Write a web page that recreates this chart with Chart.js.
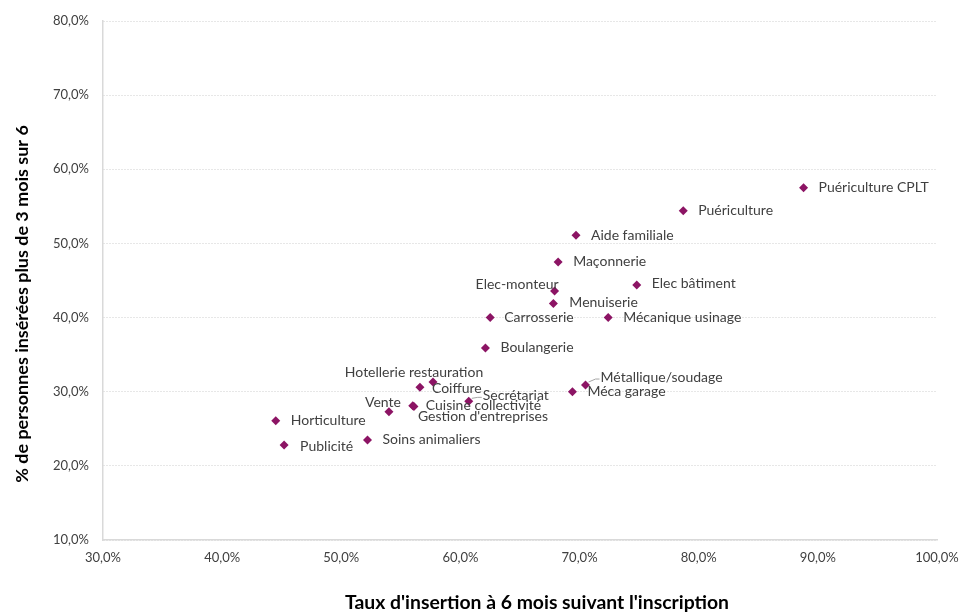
<!DOCTYPE html>
<html lang="fr">
<head>
<meta charset="utf-8">
<script src="https://cdn.jsdelivr.net/npm/chart.js@4/dist/chart.umd.min.js"></script>
<style>
  html, body { margin: 0; padding: 0; background: #ffffff; }
  #wrap { width: 959px; height: 612px; position: relative; }
</style>
</head>
<body>
<div id="wrap"><canvas id="chart" width="959" height="612"></canvas></div>
<script>
// Filières de formation
const filieres = [
  'Puériculture CPLT', 'Puériculture', 'Aide familiale', 'Maçonnerie',
  'Elec-monteur', 'Menuiserie', 'Elec bâtiment', 'Carrosserie',
  'Mécanique usinage', 'Boulangerie', 'Métallique/soudage', 'Méca garage',
  'Hotellerie restauration', 'Coiffure', 'Secrétariat', 'Cuisine collectivité',
  'Gestion d\'entreprises', 'Vente', 'Horticulture', 'Publicité', 'Soins animaliers'
];
// Taux d'insertion à 6 mois (%)
const tauxInsertion6Mois = [
  88.8, 78.7, 69.7, 68.2,
  67.9, 67.8, 74.8, 62.5,
  72.4, 62.1, 70.5, 69.4,
  57.7, 56.6, 60.7, 56.0,
  56.1, 54.0, 44.5, 45.2, 52.2
];
// Part des personnes insérées plus de 3 mois sur 6 (%)
const inseresPlus3Mois = [
  57.5, 54.4, 51.1, 47.5,
  43.6, 41.9, 44.4, 40.0,
  40.0, 35.9, 30.9, 30.0,
  31.3, 30.6, 28.7, 28.1,
  28.0, 27.3, 26.1, 22.8, 23.5
];
const xTicks = [30, 40, 50, 60, 70, 80, 90, 100];
const yTicks = [10, 20, 30, 40, 50, 60, 70, 80];

// Placement of the point labels (pixel offsets from the marker)
const defaultPlacement = { dx: 15, dy: 0, align: 'left' };
const labelPlacement = {
  'Elec-monteur': { dx: 4, dy: -6, align: 'right' },
  'Menuiserie': { dx: 16, dy: -1, align: 'left' },
  'Elec bâtiment': { dx: 15, dy: -1, align: 'left' },
  'Carrosserie': { dx: 14, dy: 0, align: 'left' },
  'Métallique/soudage': { dx: 15, dy: -8, align: 'left', leader: true },
  'Hotellerie restauration': { dx: -19, dy: -10, align: 'center' },
  'Coiffure': { dx: 12, dy: 1, align: 'left' },
  'Secrétariat': { dx: 14, dy: -6, align: 'left', leader: true },
  'Cuisine collectivité': { dx: 13, dy: 0, align: 'left' },
  'Gestion d\'entreprises': { dx: 4, dy: 10, align: 'left' },
  'Vente': { dx: -6, dy: -9, align: 'center' },
  'Publicité': { dx: 16, dy: 1, align: 'left' }
};

const fmtPct = v => v.toFixed(1).replace('.', ',') + '%';
const FONT = 'Lato, "Open Sans", sans-serif';
const markerColor = '#8c1464';
const gridColor = '#d9d9d9';

const pointLabels = {
  id: 'pointLabels',
  afterDatasetsDraw(chart) {
    const ctx = chart.ctx;
    const meta = chart.getDatasetMeta(0);
    ctx.save();
    ctx.font = '14px ' + FONT;
    ctx.fillStyle = '#404040';
    ctx.textBaseline = 'middle';
    meta.data.forEach((pt, i) => {
      const name = filieres[i];
      const p = labelPlacement[name] || defaultPlacement;
      const tx = pt.x + p.dx, ty = pt.y + p.dy;
      if (p.leader) {
        ctx.save();
        ctx.strokeStyle = '#a6a6a6';
        ctx.lineWidth = 1;
        ctx.beginPath();
        ctx.moveTo(pt.x + 3, pt.y - 3);
        ctx.lineTo(tx - 5, ty + 2);
        ctx.lineTo(tx - 1, ty + 2);
        ctx.stroke();
        ctx.restore();
      }
      ctx.textAlign = p.align;
      ctx.fillText(name, tx, ty);
    });
    ctx.restore();
  }
};

// Draws a bold title scaled to the given width
function drawTitle(ctx, text, width) {
  ctx.font = 'bold 15px ' + FONT;
  const size = 15 * width / ctx.measureText(text).width;
  ctx.font = 'bold ' + size.toFixed(2) + 'px ' + FONT;
  ctx.fillText(text, 0, 0);
}

const axisTitles = {
  id: 'axisTitles',
  afterDraw(chart) {
    const ctx = chart.ctx;
    ctx.save();
    ctx.fillStyle = '#000000';
    ctx.textAlign = 'center';
    ctx.textBaseline = 'middle';
    ctx.save();
    ctx.translate(537, 603);
    drawTitle(ctx, 'Taux d\'insertion à 6 mois suivant l\'inscription', 384);
    ctx.restore();
    ctx.translate(22, 304);
    ctx.rotate(-Math.PI / 2);
    drawTitle(ctx, '% de personnes insérées plus de 3 mois sur 6', 358);
    ctx.restore();
  }
};

new Chart(document.getElementById('chart'), {
  type: 'scatter',
  data: {
    datasets: [{
      label: 'Filières',
      data: filieres.map((f, i) => ({ x: tauxInsertion6Mois[i], y: inseresPlus3Mois[i] })),
      pointStyle: 'rectRot',
      pointRadius: 4.5,
      pointHoverRadius: 4.5,
      backgroundColor: markerColor,
      borderColor: markerColor,
      borderWidth: 0
    }]
  },
  options: {
    responsive: false,
    animation: false,
    devicePixelRatio: 1,
    layout: { padding: { left: 0, right: 0, top: 21, bottom: 0 }, autoPadding: false },
    plugins: {
      legend: { display: false },
      tooltip: { enabled: false }
    },
    scales: {
      x: {
        type: 'linear',
        min: xTicks[0],
        max: xTicks[xTicks.length - 1],
        afterBuildTicks: s => { s.ticks = xTicks.map(v => ({ value: v })); },
        afterFit: s => { s.height = 72; s.paddingLeft = 0; s.paddingRight = 22; },
        grid: { display: false, drawTicks: false },
        border: { display: true, color: gridColor, width: 1.5 },
        ticks: {
          padding: 10,
          color: '#404040',
          font: { family: FONT, size: 13 },
          callback: v => fmtPct(v)
        }
      },
      y: {
        type: 'linear',
        min: yTicks[0],
        max: yTicks[yTicks.length - 1],
        afterBuildTicks: s => { s.ticks = yTicks.map(v => ({ value: v })); },
        afterFit: s => { s.width = 103; s.paddingTop = 0; s.paddingBottom = 0; },
        grid: {
          display: true,
          color: '#cfcfcf',
          drawTicks: false
        },
        border: { display: true, color: gridColor, width: 1.5, dash: [1, 2] },
        ticks: {
          padding: 14,
          color: '#404040',
          font: { family: FONT, size: 13 },
          callback: v => fmtPct(v)
        }
      }
    }
  },
  plugins: [pointLabels, axisTitles]
});
</script>
</body>
</html>
